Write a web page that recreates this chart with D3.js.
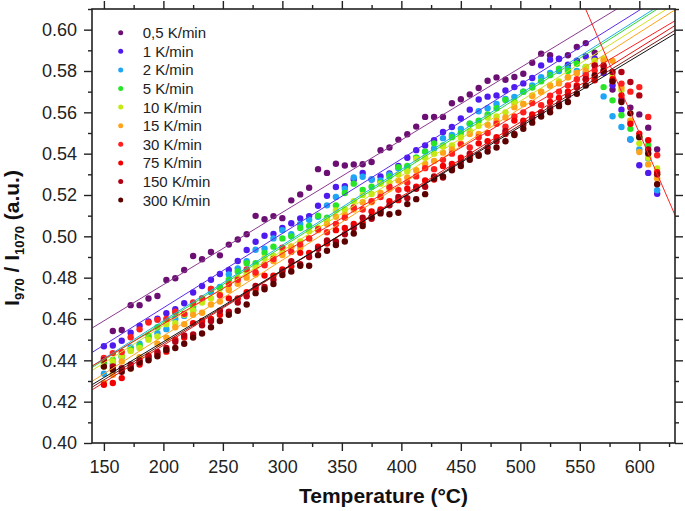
<!DOCTYPE html>
<html>
<head>
<meta charset="utf-8">
<script src="https://cdn.jsdelivr.net/npm/d3@7"></script>
<style>
  body { margin: 0; background: #fff; }
  svg { display: block; }
  text { font-family: "Liberation Sans", Arial, sans-serif; }
</style>
</head>
<body>
<svg id="chart" width="685" height="511"></svg>
<script>
// temperature steps (°C)
var temps = [150,157.5,165,172.5,180,187.5,195,202.5,210,217.5,225,232.5,240,247.5,255,262.5,270,277.5,285,292.5,
  300,307.5,315,322.5,330,337.5,345,352.5,360,367.5,375,382.5,390,397.5,405,412.5,420,427.5,435,442.5,
  450,457.5,465,472.5,480,487.5,495,502.5,510,517.5,525,532.5,540,547.5,555,562.5,570,577.5,585,592.5,
  600,607.5,615];

var series_names = ["0,5 K/min","1 K/min","2 K/min","5 K/min","10 K/min","15 K/min","30 K/min","75 K/min","150 K/min","300 K/min"];
var series_colors = ["#6b0f73","#4f1aee","#1ea5f5","#26e626","#c3ea12","#ffa31a","#ff1f1f","#f20000","#b00012","#5c0000"];
var line_colors = ["#8a3a90","#5a2af0","#1fb0e8","#30d830","#d2e020","#ffa31a","#ff2020","#e81010","#7a1a1a","#111111"];

var r_05 = [null,.4542,.4547,.4667,.4667,.4699,.4711,.4789,.4797,.4837,.4905,.4889,.4924,.4908,.4960,.4985,.5010,
  .5099,.5083,.5098,.5088,.5174,.5203,.5235,.5325,.5307,.5351,.5343,.5348,.5349,.5360,.5417,.5430,.5468,.5494,.5531,.5578,
  .5578,.5578,.5644,.5663,.5686,.5718,.5753,.5769,.5758,.5771,.5787,.5840,.5884,.5876,.5860,.5876,.5916,.5935,.5889,
  null,.5710,.5660,.5623,.5590,.5526,.5421];
var r_1 = [.4468,.4472,.4495,.4534,.4567,.4588,.4602,.4628,.4647,.4676,.4728,.4760,.4790,.4818,.4837,.4881,.4934,.4974,.5003,.5012,
  .5041,.5063,.5087,.5098,.5148,.5196,.5239,.5243,.5275,.5307,.5275,.5290,.5304,.5340,.5380,.5417,.5440,.5465,.5505,.5529,
  .5570,.5613,.5662,.5676,.5682,.5706,.5722,.5740,.5766,.5827,.5855,.5858,.5830,.5850,.5870,.5860,.5790,.5731,.5613,.5468,
  .5344,.5307,.5206];
var r_2 = [.4335,.4380,.4415,.4462,.4480,.4510,.4531,.4551,.4600,.4615,.4645,.4690,.4730,.4755,.4815,.4845,.4880,.4935,.4940,.4990,
  .5030,.5010,.5060,.5080,.5095,.5150,.5190,.5230,.5285,.5288,.5275,.5270,.5300,.5330,.5335,.5380,.5410,.5425,.5475,.5490,
  .5520,.5545,.5605,.5620,.5640,.5665,.5675,.5700,.5730,.5770,.5790,.5800,.5810,.5800,.5790,.5760,.5677,.5581,.5529,.5470,
  .5420,.5377,.5223];
var r_5 = [.4390,.4402,.4420,.4450,.4470,.4520,.4560,.4590,.4630,.4625,.4660,.4700,.4745,.4750,.4790,.4830,.4870,.4870,.4920,.4950,
  .4990,.5000,.5040,.5050,.5100,.5090,.5150,.5210,.5255,.5225,.5240,.5260,.5290,.5335,.5340,.5380,.5410,.5450,.5440,.5480,
  .5500,.5545,.5560,.5590,.5620,.5660,.5650,.5700,.5720,.5750,.5780,.5811,.5800,.5835,.5820,.5830,.5722,.5658,.5586,.5520,
  .5481,.5441,.5300];
var r_10 = [.4370,.4395,.4418,.4445,.4460,.4500,.4515,.4575,.4580,.4620,.4640,.4680,.4700,.4720,.4745,.4800,.4820,.4850,.4895,.4905,
  .4930,.4950,.4975,.5025,.5040,.5080,.5125,.5130,.5170,.5200,.5205,.5255,.5260,.5300,.5315,.5375,.5380,.5400,.5435,.5440,
  .5480,.5510,.5535,.5575,.5580,.5600,.5645,.5640,.5680,.5700,.5730,.5750,.5770,.5790,.5820,.5850,.5860,.5780,.5707,.5560,
  .5450,.5380,.5328];
var r_15 = [.4290,.4330,.4394,.4360,.4415,.4425,.4480,.4510,.4560,.4575,.4620,.4630,.4670,.4685,.4740,.4770,.4800,.4815,.4865,.4880,
  .4910,.4950,.4945,.4990,.5030,.5060,.5095,.5105,.5130,.5165,.5165,.5210,.5230,.5270,.5285,.5320,.5350,.5365,.5405,.5420,
  .5450,.5495,.5495,.5540,.5560,.5575,.5625,.5640,.5680,.5700,.5730,.5740,.5770,.5790,.5800,.5830,.5851,.5849,.5720,.5560,
  .5408,.5348,.5280];
var r_30 = [.4411,.4435,.4440,.4512,.4550,.4583,.4596,.4600,.4635,.4625,.4680,.4700,.4745,.4715,.4770,.4790,.4840,.4825,.4860,.4890,
  .4945,.4925,.4960,.4990,.5035,.5020,.5060,.5090,.5140,.5130,.5170,.5190,.5240,.5225,.5260,.5290,.5330,.5325,.5370,.5400,
  .5445,.5430,.5480,.5500,.5545,.5530,.5580,.5600,.5645,.5635,.5680,.5700,.5730,.5760,.5780,.5803,.5820,.5750,.5739,.5700,
  .5722,.5578,.5392];
var r_75 = [.4282,.4290,.4314,.4367,.4380,.4410,.4431,.4442,.4500,.4510,.4580,.4590,.4600,.4620,.4700,.4700,.4730,.4745,.4810,.4810,
  .4840,.4855,.4920,.4920,.4950,.4965,.5030,.5040,.5060,.5065,.5120,.5130,.5170,.5175,.5230,.5240,.5270,.5275,.5340,.5350,
  .5380,.5385,.5450,.5460,.5480,.5495,.5560,.5560,.5590,.5600,.5650,.5670,.5700,.5730,.5760,.5755,.5800,.5760,.5682,.5545,
  .5497,.5465,.5310];
var r_150 = [.4402,.4370,.4362,.4380,.4400,.4420,.4440,.4460,.4490,.4520,.4525,.4570,.4590,.4640,.4635,.4680,.4710,.4760,.4755,.4790,
  .4830,.4880,.4865,.4900,.4940,.4980,.4975,.5010,.5040,.5090,.5085,.5120,.5150,.5190,.5185,.5230,.5240,.5290,.5285,.5330,
  .5360,.5400,.5395,.5430,.5460,.5510,.5495,.5540,.5570,.5600,.5620,.5640,.5680,.5720,.5760,.5827,.5827,.5795,.5795,.5747,
  .5682,.5420,.5300];
var r_300 = [.4370,.4355,.4345,.4360,.4390,.4400,.4420,.4450,.4460,.4480,.4510,.4530,.4560,.4590,.4620,.4640,.4670,.4725,.4744,.4769,
  .4813,.4830,.4858,.4858,.4909,.4930,.4958,.4975,.5014,.5050,.5094,.5111,.5107,.5114,.5156,.5180,.5204,.5280,.5290,.5320,
  .5340,.5370,.5390,.5410,.5430,.5460,.5490,.5520,.5550,.5580,.5600,.5630,.5650,.5690,.5730,.5779,.5800,.5750,.5650,.5595,
  .5480,.5401,.5252];

// linear fits: value at 140 °C and at 630 °C
var fit_left  = [0.4556,0.4438,0.4372,0.4365,0.4351,0.4298,0.4372,0.4257,0.4270,0.4282];
var fit_right = [0.6271,0.6202,0.6165,0.6154,0.6125,0.6096,0.6043,0.6020,0.5997,0.5981];
// fit of the falling part
var drop_fit_t = [555, 630];
var drop_fit_v = [0.6098, 0.5103];

var x_major = [150,200,250,300,350,400,450,500,550,600];
var x_minor = [175,225,275,325,375,425,475,525,575,625];
var y_major = [0.40,0.42,0.44,0.46,0.48,0.50,0.52,0.54,0.56,0.58,0.60];
var y_minor = [0.41,0.43,0.45,0.47,0.49,0.51,0.53,0.55,0.57,0.59,0.61];

var all_series = [r_05, r_1, r_2, r_5, r_10, r_15, r_30, r_75, r_150, r_300];

var svg = d3.select("#chart");
var plot_l = 92, plot_r = 675, plot_t = 9, plot_b = 443;

var x = d3.scaleLinear().domain([140, 630]).range([plot_l, plot_r]);
var y = d3.scaleLinear().domain([0.40, 0.61]).range([plot_b, plot_t]);

svg.append("defs").append("clipPath").attr("id", "plot_clip")
  .append("rect").attr("x", plot_l).attr("y", plot_t).attr("width", plot_r - plot_l).attr("height", plot_b - plot_t);

// points
var points_g = svg.append("g").attr("clip-path", "url(#plot_clip)");
all_series.forEach(function(vals, i){
  var pts = [];
  vals.forEach(function(v, k){ if (v !== null) pts.push([temps[k], v]); });
  points_g.append("g").attr("class", "series_" + i)
    .selectAll("circle")
    .data(pts)
    .enter()
    .append("circle")
    .attr("cx", function(d){ return x(d[0]); })
    .attr("cy", function(d){ return y(d[1]); })
    .attr("r", 3.2)
    .attr("fill", series_colors[i]);
});

// fit lines
var lines_g = svg.append("g").attr("clip-path", "url(#plot_clip)");
var line = d3.line().x(function(d){ return x(d[0]); }).y(function(d){ return y(d[1]); });
fit_left.forEach(function(v, i){
  lines_g.append("path")
    .datum([[140, v], [630, fit_right[i]]])
    .attr("d", line)
    .attr("fill", "none")
    .attr("stroke", line_colors[i])
    .attr("stroke-width", 1);
});
lines_g.append("path")
  .datum([[drop_fit_t[0], drop_fit_v[0]], [drop_fit_t[1], drop_fit_v[1]]])
  .attr("d", line)
  .attr("fill", "none")
  .attr("stroke", "#ff2020")
  .attr("stroke-width", 1);

// axes
function styleAxis(g){
  g.select(".domain").remove();
  g.selectAll("line").attr("stroke", "#222").attr("stroke-width", 1.4);
  g.selectAll("text").attr("fill", "#222").attr("font-size", 18)
    .attr("font-family", "'Liberation Sans', Arial, sans-serif");
}

svg.append("g").attr("transform", "translate(0," + plot_b + ")")
  .call(d3.axisBottom(x).tickValues(x_major).tickSize(8).tickPadding(9).tickFormat(d3.format("d")))
  .call(styleAxis);
svg.append("g").attr("transform", "translate(0," + plot_b + ")")
  .call(d3.axisBottom(x).tickValues(x_minor).tickSize(4).tickFormat(""))
  .call(styleAxis);
svg.append("g").attr("transform", "translate(0," + plot_t + ")")
  .call(d3.axisTop(x).tickValues(x_major).tickSize(8).tickFormat(""))
  .call(styleAxis);
svg.append("g").attr("transform", "translate(0," + plot_t + ")")
  .call(d3.axisTop(x).tickValues(x_minor).tickSize(4).tickFormat(""))
  .call(styleAxis);

svg.append("g").attr("transform", "translate(" + plot_l + ",0)")
  .call(d3.axisLeft(y).tickValues(y_major).tickSize(8).tickPadding(7).tickFormat(d3.format(".2f")))
  .call(styleAxis);
svg.append("g").attr("transform", "translate(" + plot_l + ",0)")
  .call(d3.axisLeft(y).tickValues(y_minor).tickSize(4).tickFormat(""))
  .call(styleAxis);
svg.append("g").attr("transform", "translate(" + plot_r + ",0)")
  .call(d3.axisRight(y).tickValues(y_major).tickSize(8).tickFormat(""))
  .call(styleAxis);
svg.append("g").attr("transform", "translate(" + plot_r + ",0)")
  .call(d3.axisRight(y).tickValues(y_minor).tickSize(4).tickFormat(""))
  .call(styleAxis);

// frame
svg.append("rect")
  .attr("x", plot_l).attr("y", plot_t)
  .attr("width", plot_r - plot_l).attr("height", plot_b - plot_t)
  .attr("fill", "none").attr("stroke", "#222").attr("stroke-width", 1.6);

// legend
var legend_g = svg.append("g");
series_names.forEach(function(name, i){
  var ly = 32.7 + i * 18.6;
  legend_g.append("circle").attr("cx", 120.7).attr("cy", ly).attr("r", 2.5).attr("fill", series_colors[i]);
  legend_g.append("text").attr("x", 142.7).attr("y", ly).attr("dy", "0.36em")
    .attr("font-size", 15).attr("fill", "#222").text(name);
});

// axis titles
svg.append("text")
  .attr("x", (plot_l + plot_r) / 2).attr("y", 503)
  .attr("text-anchor", "middle")
  .attr("font-size", 21).attr("font-weight", "bold").attr("fill", "#111")
  .text("Temperature (°C)");

var ytitle = svg.append("text")
  .attr("transform", "translate(19,238) rotate(-90)")
  .attr("text-anchor", "middle")
  .attr("font-size", 21).attr("font-weight", "bold").attr("fill", "#111");
ytitle.append("tspan").text("I");
ytitle.append("tspan").attr("dy", 5).attr("font-size", 13).text("970");
ytitle.append("tspan").attr("dy", -5).text(" / I");
ytitle.append("tspan").attr("dy", 5).attr("font-size", 13).text("1070");
ytitle.append("tspan").attr("dy", -5).text(" (a.u.)");
</script>
</body>
</html>
